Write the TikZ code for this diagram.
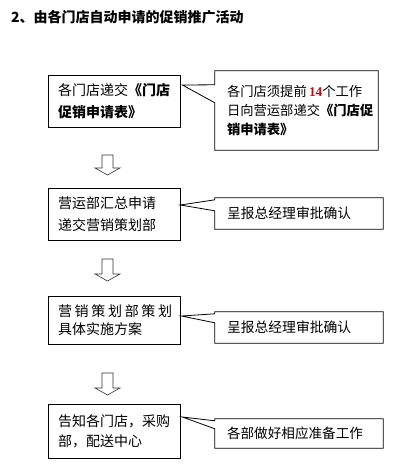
\documentclass[tikz,border=0pt]{standalone}
\usepackage{fontspec}
\setmainfont{Noto Sans CJK SC}
\newfontfamily\numfont{Liberation Serif}
\usetikzlibrary{calc}
\definecolor{numred}{HTML}{B0101A}
\definecolor{arrowgray}{HTML}{333333}
\begin{document}
\begin{tikzpicture}[x=1pt,y=-1pt,
  box/.style={draw, line width=0.8pt, minimum width=132, inner xsep=10, inner ysep=0,
    text width=112, align=left},
  calloutbox/.style={draw=none, inner xsep=12, inner ysep=0, align=left},
  callline/.style={line width=0.8pt, line join=miter},
  blockarrow/.style={draw=arrowgray, line width=0.6pt, fill=white}
]
\useasboundingbox (0,0) rectangle (417,468);

% title
\node[anchor=west, inner sep=0, font=\fontsize{14}{16}\selectfont\bfseries] (title) at (11,17) {2、由各门店自动申请的促销推广活动};

% main boxes
\node[box, minimum height=52, font=\fontsize{14}{22}\selectfont] (b1) at (114,101)
  {各门店递交{\bfseries《门店}\\{\bfseries 促销申请表》}};
\node[box, minimum height=52, font=\fontsize{14}{22}\selectfont] (b2) at (114,214)
  {营运部汇总申请\\递交营销策划部};
\node[box, minimum height=48, font=\fontsize{14}{18}\selectfont] (b3) at (114,320)
  {营\kern2.7pt 销\kern2.7pt 策\kern2.7pt 划\kern2.7pt 部\kern2.7pt 策\kern2.7pt 划\\具体实施方案};
\node[box, minimum height=54, font=\fontsize{14}{20}\selectfont] (b4) at (114,431)
  {告知各门店，采购\\部，配送中心};

% callout texts
\node[calloutbox, minimum width=163, minimum height=79, text width=139, font=\fontsize{13.3}{19}\selectfont] (c1) at (296.5,110.5)
  {各门店须提前\,{\numfont\bfseries\color{numred}14}个工作\\日向营运部递交{\bfseries《门店促}\\{\bfseries 销申请表》}};
\node[calloutbox, minimum width=168, minimum height=31, text width=144, font=\fontsize{13.8}{16}\selectfont] (c2) at (299,213.5)
  {呈报总经理审批确认};
\node[calloutbox, minimum width=168, minimum height=31, text width=144, font=\fontsize{13.8}{16}\selectfont] (c3) at (299,327.5)
  {呈报总经理审批确认};
\node[calloutbox, minimum width=168, minimum height=29, text width=144, font=\fontsize{13.6}{16}\selectfont] (c4) at (299,433.5)
  {各部做好相应准备工作};

% pointer tips
\coordinate (t1) at ($(b1.east)+(2,-16)$);
\coordinate (t2) at ($(b2.east)+(0,-9)$);
\coordinate (t3) at ($(b3.east)+(1,-4)$);
\coordinate (t4) at ($(b4.east)+(2,-14)$);

% callout outlines
\draw[callline] (c1.north west) -- (c1.north east) -- (c1.south east) -- (c1.south west)
  -- ($(c1.north west)+(0,32)$) -- (t1) -- ($(c1.north west)+(0,14)$) -- cycle;
\draw[callline] (c2.north west) -- (c2.north east) -- (c2.south east) -- (c2.south west)
  -- ($(c2.north west)+(0,13)$) -- (t2) -- ($(c2.north west)+(0,2)$) -- cycle;
\draw[callline] (c3.north west) -- (c3.north east) -- (c3.south east) -- (c3.south west)
  -- ($(c3.north west)+(0,11)$) -- (t3) -- ($(c3.north west)+(0,2)$) -- cycle;
\draw[callline] (c4.north west) -- (c4.north east) -- (c4.south east) -- (c4.south west)
  -- ($(c4.north west)+(0,10)$) -- (t4) -- ($(c4.north west)+(0,2)$) -- cycle;

% block arrows
\draw[blockarrow] (102,155) -- (113,155) -- (113,168) -- (120,168) -- (107.5,175) -- (95,168) -- (102,168) -- cycle;
\draw[blockarrow] (102,259) -- (113,259) -- (113,274) -- (120,274) -- (107.5,281) -- (95,274) -- (102,274) -- cycle;
\draw[blockarrow] (102,373) -- (113,373) -- (113,388) -- (120,388) -- (107.5,395) -- (95,388) -- (102,388) -- cycle;
\end{tikzpicture}
\end{document}
